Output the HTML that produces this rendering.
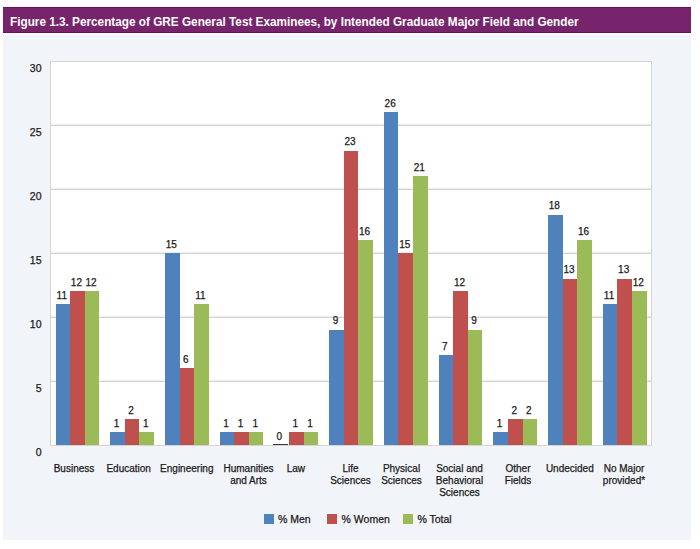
<!DOCTYPE html>
<html><head><meta charset="utf-8"><style>
*{margin:0;padding:0;box-sizing:border-box}
html,body{width:700px;height:549px;overflow:hidden;background:#fff}
body{position:relative;font-family:"Liberation Sans",sans-serif;color:#1c1a1a}
.v,.y,.c,.lt{-webkit-text-stroke:0.25px #1c1a1a}
.a{position:absolute}
#panel{left:3px;top:35px;width:688px;height:505px;background:#f1f4f9}
#hdr{left:3px;top:7px;width:688px;height:26px;background:#77246c;border-top:1px solid #690f5f;border-bottom:1px solid #690f5f}
#ttl{left:9.5px;top:13.8px;font-size:13px;font-weight:bold;color:#fff;white-space:nowrap;line-height:15px;transform-origin:0 0;transform:scaleX(0.905)}
#plot{left:50px;top:61px;width:602px;height:385px;background:#fff;border:1px solid #d4d4d4}
.g{position:absolute;left:51px;width:600px;height:1px;background:#d4d4d4;box-shadow:0 -1px 0 #eeeeee}
.b{position:absolute}
.v{position:absolute;font-size:10px;line-height:12px;text-align:center;width:30px;white-space:nowrap}
.y{position:absolute;font-size:10.5px;line-height:12px;text-align:right;width:30px;left:11.5px}
.c{position:absolute;font-size:10px;line-height:12.2px;text-align:center;width:80px;white-space:nowrap}
.lg{position:absolute;width:10px;height:10px;top:513.5px}
.lt{position:absolute;font-size:10.5px;line-height:12px;top:513.1px;white-space:nowrap}
</style></head><body>
<div class="a" id="panel"></div>
<div class="a" id="hdr"></div>
<div class="a" id="ttl">Figure 1.3. Percentage of GRE General Test Examinees, by Intended Graduate Major Field and Gender</div>
<div class="a" id="plot"></div>

<div class="g" style="top:381.00px"></div>
<div class="g" style="top:317.00px"></div>
<div class="g" style="top:253.00px"></div>
<div class="g" style="top:189.00px"></div>
<div class="g" style="top:125.00px"></div>
<div class="y" style="top:446.00px">0</div>
<div class="y" style="top:382.00px">5</div>
<div class="y" style="top:318.00px">10</div>
<div class="y" style="top:254.00px">15</div>
<div class="y" style="top:190.00px">20</div>
<div class="y" style="top:126.00px">25</div>
<div class="y" style="top:62.00px">30</div>
<div class="b" style="left:55.50px;top:304.20px;width:14.60px;height:140.80px;background:#4F81BD"></div>
<div class="v" style="left:46.80px;top:289.70px">11</div>
<div class="b" style="left:70.10px;top:291.40px;width:14.60px;height:153.60px;background:#C0504D"></div>
<div class="v" style="left:61.40px;top:276.90px">12</div>
<div class="b" style="left:84.70px;top:291.40px;width:14.60px;height:153.60px;background:#9BBB59"></div>
<div class="v" style="left:76.00px;top:276.90px">12</div>
<div class="c" style="left:34.00px;top:463px">Business</div>
<div class="b" style="left:110.23px;top:432.20px;width:14.60px;height:12.80px;background:#4F81BD"></div>
<div class="v" style="left:101.53px;top:417.70px">1</div>
<div class="b" style="left:124.83px;top:419.40px;width:14.60px;height:25.60px;background:#C0504D"></div>
<div class="v" style="left:116.13px;top:404.90px">2</div>
<div class="b" style="left:139.43px;top:432.20px;width:14.60px;height:12.80px;background:#9BBB59"></div>
<div class="v" style="left:130.73px;top:417.70px">1</div>
<div class="c" style="left:88.70px;top:463px">Education</div>
<div class="b" style="left:164.95px;top:253.00px;width:14.60px;height:192.00px;background:#4F81BD"></div>
<div class="v" style="left:156.25px;top:238.50px">15</div>
<div class="b" style="left:179.55px;top:368.20px;width:14.60px;height:76.80px;background:#C0504D"></div>
<div class="v" style="left:170.85px;top:353.70px">6</div>
<div class="b" style="left:194.15px;top:304.20px;width:14.60px;height:140.80px;background:#9BBB59"></div>
<div class="v" style="left:185.45px;top:289.70px">11</div>
<div class="c" style="left:146.80px;top:463px">Engineering</div>
<div class="b" style="left:219.68px;top:432.20px;width:14.60px;height:12.80px;background:#4F81BD"></div>
<div class="v" style="left:210.98px;top:417.70px">1</div>
<div class="b" style="left:234.28px;top:432.20px;width:14.60px;height:12.80px;background:#C0504D"></div>
<div class="v" style="left:225.58px;top:417.70px">1</div>
<div class="b" style="left:248.88px;top:432.20px;width:14.60px;height:12.80px;background:#9BBB59"></div>
<div class="v" style="left:240.18px;top:417.70px">1</div>
<div class="c" style="left:208.50px;top:463px">Humanities<br>and Arts</div>
<div class="b" style="left:272.91px;top:443.50px;width:15.10px;height:1.5px;background:#3a3a3a"></div>
<div class="v" style="left:264.21px;top:430.50px">0</div>
<div class="b" style="left:289.01px;top:432.20px;width:14.60px;height:12.80px;background:#C0504D"></div>
<div class="v" style="left:280.31px;top:417.70px">1</div>
<div class="b" style="left:303.61px;top:432.20px;width:14.60px;height:12.80px;background:#9BBB59"></div>
<div class="v" style="left:294.91px;top:417.70px">1</div>
<div class="c" style="left:255.90px;top:463px">Law</div>
<div class="b" style="left:329.14px;top:329.80px;width:14.60px;height:115.20px;background:#4F81BD"></div>
<div class="v" style="left:320.44px;top:315.30px">9</div>
<div class="b" style="left:343.74px;top:150.60px;width:14.60px;height:294.40px;background:#C0504D"></div>
<div class="v" style="left:335.04px;top:136.10px">23</div>
<div class="b" style="left:358.34px;top:240.20px;width:14.60px;height:204.80px;background:#9BBB59"></div>
<div class="v" style="left:349.64px;top:225.70px">16</div>
<div class="c" style="left:310.50px;top:463px">Life<br>Sciences</div>
<div class="b" style="left:383.86px;top:112.20px;width:14.60px;height:332.80px;background:#4F81BD"></div>
<div class="v" style="left:375.16px;top:97.70px">26</div>
<div class="b" style="left:398.46px;top:253.00px;width:14.60px;height:192.00px;background:#C0504D"></div>
<div class="v" style="left:389.76px;top:238.50px">15</div>
<div class="b" style="left:413.06px;top:176.20px;width:14.60px;height:268.80px;background:#9BBB59"></div>
<div class="v" style="left:404.36px;top:161.70px">21</div>
<div class="c" style="left:361.50px;top:463px">Physical<br>Sciences</div>
<div class="b" style="left:438.59px;top:355.40px;width:14.60px;height:89.60px;background:#4F81BD"></div>
<div class="v" style="left:429.89px;top:340.90px">7</div>
<div class="b" style="left:453.19px;top:291.40px;width:14.60px;height:153.60px;background:#C0504D"></div>
<div class="v" style="left:444.49px;top:276.90px">12</div>
<div class="b" style="left:467.79px;top:329.80px;width:14.60px;height:115.20px;background:#9BBB59"></div>
<div class="v" style="left:459.09px;top:315.30px">9</div>
<div class="c" style="left:419.50px;top:463px">Social and<br>Behavioral<br>Sciences</div>
<div class="b" style="left:493.32px;top:432.20px;width:14.60px;height:12.80px;background:#4F81BD"></div>
<div class="v" style="left:484.62px;top:417.70px">1</div>
<div class="b" style="left:507.92px;top:419.40px;width:14.60px;height:25.60px;background:#C0504D"></div>
<div class="v" style="left:499.22px;top:404.90px">2</div>
<div class="b" style="left:522.52px;top:419.40px;width:14.60px;height:25.60px;background:#9BBB59"></div>
<div class="v" style="left:513.82px;top:404.90px">2</div>
<div class="c" style="left:478.00px;top:463px">Other<br>Fields</div>
<div class="b" style="left:548.05px;top:214.60px;width:14.60px;height:230.40px;background:#4F81BD"></div>
<div class="v" style="left:539.35px;top:200.10px">18</div>
<div class="b" style="left:562.65px;top:278.60px;width:14.60px;height:166.40px;background:#C0504D"></div>
<div class="v" style="left:553.95px;top:264.10px">13</div>
<div class="b" style="left:577.25px;top:240.20px;width:14.60px;height:204.80px;background:#9BBB59"></div>
<div class="v" style="left:568.55px;top:225.70px">16</div>
<div class="c" style="left:529.80px;top:463px">Undecided</div>
<div class="b" style="left:602.77px;top:304.20px;width:14.60px;height:140.80px;background:#4F81BD"></div>
<div class="v" style="left:594.07px;top:289.70px">11</div>
<div class="b" style="left:617.37px;top:278.60px;width:14.60px;height:166.40px;background:#C0504D"></div>
<div class="v" style="left:608.67px;top:264.10px">13</div>
<div class="b" style="left:631.97px;top:291.40px;width:14.60px;height:153.60px;background:#9BBB59"></div>
<div class="v" style="left:623.27px;top:276.90px">12</div>
<div class="c" style="left:584.00px;top:463px">No Major<br>provided*</div>
<div class="lg" style="left:264px;background:#4F81BD"></div><div class="lt" style="left:278px">% Men</div>
<div class="lg" style="left:327px;background:#C0504D"></div><div class="lt" style="left:341.6px">% Women</div>
<div class="lg" style="left:402.6px;background:#9BBB59"></div><div class="lt" style="left:417.4px">% Total</div>
</body></html>
